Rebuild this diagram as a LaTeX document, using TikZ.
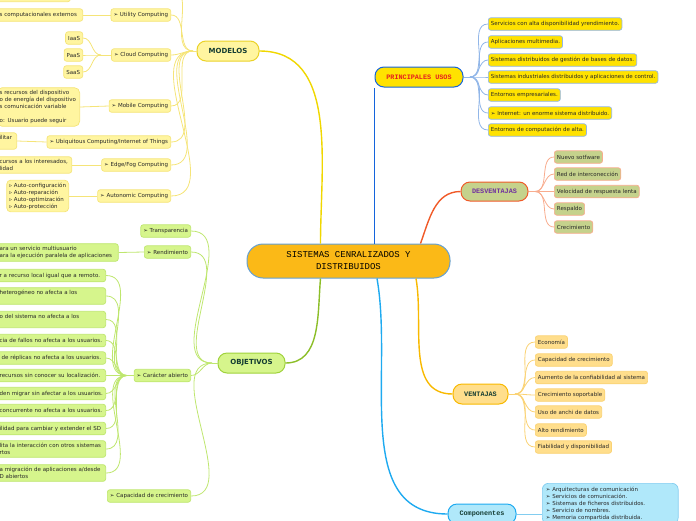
\documentclass[tikz,border=0pt]{standalone}
\usepackage{fontspec}
\setmainfont{DejaVu Sans}
\newfontfamily\courier{Liberation Mono}
\usepackage{tikz}
\usetikzlibrary{positioning}

\definecolor{ink}{RGB}{40,40,40}
\definecolor{deep}{RGB}{20,60,50}
\definecolor{cenfill}{RGB}{251,185,23}
\definecolor{cenbd}{RGB}{100,160,210}
\definecolor{modfill}{RGB}{255,245,160}
\definecolor{modbd}{RGB}{235,210,40}
\definecolor{modedge}{RGB}{245,228,120}
\definecolor{modtrunk}{RGB}{240,215,0}
\definecolor{objfill}{RGB}{214,245,140}
\definecolor{objbd}{RGB}{160,210,60}
\definecolor{objedge}{RGB}{190,230,110}
\definecolor{objtrunk}{RGB}{140,190,40}
\definecolor{usofill}{RGB}{255,226,0}
\definecolor{usobd}{RGB}{20,100,220}
\definecolor{usotext}{RGB}{230,30,30}
\definecolor{usoedge}{RGB}{145,182,232}
\definecolor{desfill}{RGB}{197,210,140}
\definecolor{desbd}{RGB}{240,90,40}
\definecolor{destext}{RGB}{112,48,160}
\definecolor{desedge}{RGB}{248,172,142}
\definecolor{venfill}{RGB}{255,222,140}
\definecolor{venbd}{RGB}{248,185,0}
\definecolor{venedge}{RGB}{250,210,115}
\definecolor{comfill}{RGB}{176,232,250}
\definecolor{combd}{RGB}{30,170,240}
\definecolor{comedge}{RGB}{130,205,240}

\begin{document}
\begin{tikzpicture} [
        x = 1pt, y = -1pt,
        every node/.style = {font = \fontsize{5.5}{7}\selectfont, text = ink, inner sep = 2.6pt, minimum height = 12.5pt, rounded corners = 2.5pt, line width = 0.7pt},
        cut/.style = {anchor = east, align = left, text width = #1},
        main/.style = {line width = 1pt, rounded corners = 9pt, minimum height = 20pt, text = deep},
        mono/.style = {main, font = \courier\bfseries\fontsize{6.8}{8}\selectfont},
        link/.style = {line width = 0.8pt},
        trunk/.style = {line width = 1.4pt},
        modmain/.style = {main, draw = modbd, fill = modfill, font = \fontsize{7}{8}\selectfont\bfseries, minimum width = 62pt},
        modleaf/.style = {draw = modedge, fill = modfill},
        objmain/.style = {main, draw = objbd, fill = objfill, font = \fontsize{7}{8}\selectfont\bfseries, minimum width = 67pt},
        objleaf/.style = {draw = objedge, fill = objfill},
        usomain/.style = {mono, draw = usobd, fill = usofill, text = usotext, minimum width = 88pt},
        usoleaf/.style = {draw = usoedge, fill = usofill},
        desmain/.style = {mono, draw = desbd, fill = desfill, text = destext, minimum width = 67pt, minimum height = 19pt},
        desleaf/.style = {draw = desedge, fill = desfill},
        venmain/.style = {mono, draw = venbd, fill = venfill, minimum width = 55pt},
        venleaf/.style = {draw = venedge, fill = venfill},
        commain/.style = {mono, draw = combd, fill = comfill, minimum width = 68pt},
        comleaf/.style = {draw = comedge, fill = comfill}
        ]
        \useasboundingbox (0,0) rectangle (696,520);

        \node [draw = cenbd, fill = cenfill, line width = 1pt, rounded corners = 16pt, minimum width = 203pt, minimum height = 34pt, align = center, font = \courier\fontsize{9}{12}\selectfont, text = black] (centro) at (348.5,261) {SISTEMAS CENRALIZADOS Y\\DISTRIBUIDOS};

        % MODELOS
        \node [modmain] (modelos) at (228,51) {MODELOS};
        \node [modleaf, anchor = east, minimum width = 60pt] (modtop) at (171,-12) {};
        \node [modleaf, anchor = east] (utility) at (171,15) {➢ Utility Computing};
        \node [modleaf, anchor = east] (cloud) at (171,55) {➢ Cloud Computing};
        \node [modleaf, anchor = east] (mobile) at (171,106) {➢ Mobile Computing};
        \node [modleaf, anchor = east] (ubiq) at (171,142) {➢ Ubiquitous Computing/Internet of Things};
        \node [modleaf, anchor = east] (edge) at (171,165) {➢ Edge/Fog Computing};
        \node [modleaf, anchor = east] (auto) at (171,196) {➢ Autonomic Computing};
        \node [modleaf, anchor = south west, minimum width = 74pt, minimum height = 16pt] (modtopL) at (-4,2) {};
        \node [modleaf, cut = 80.4pt] (utilityL) at (83,15) {s computacionales externos};
        \node [modleaf, anchor = east] (iaas) at (83,38) {IaaS};
        \node [modleaf, anchor = east] (paas) at (83,55) {PaaS};
        \node [modleaf, anchor = east] (saas) at (83,72) {SaaS};
        \node [modleaf, cut = 77.4pt, rounded corners = 5pt] (mobileL) at (80,107) {s recursos del dispositivo\\o de energía del dispositivo\\s comunicación variable\\[7pt]o: Usuario puede seguir};
        \node [modleaf, cut = 14.4pt] (ubiqL) at (17,141) {ilitar\\\mbox{}};
        \node [modleaf, cut = 69.4pt] (edgeL) at (72,165) {cursos a los interesados,\\lidad};
        \node [modleaf, anchor = east, align = left, rounded corners = 4pt] (autoL) at (69,196) {▹ Auto-configuración\\▹ Auto-reparación\\▹ Auto-optimización\\▹ Auto-protección};

        \coordinate (modfan) at (193,51);
        \coordinate (cloudfan) at (101,55);
        \draw [link, modedge] (modelos.west) -- (modfan);
        \foreach \n in {modtop, utility, cloud, mobile, ubiq, edge, auto}
            \draw [link, modedge] (modfan) to [out = 180, in = 0] (\n.east);
        \draw [link, modedge] (cloud.west) -- (cloudfan);
        \foreach \n in {iaas, paas, saas}
            \draw [link, modedge] (cloudfan) to [out = 180, in = 0] (\n.east);
        \draw [link, modedge] (modtop.west) to [out = 180, in = 0] (modtopL.east);
        \draw [link, modedge] (utility.west) -- (utilityL.east);
        \draw [link, modedge] (mobile.west) -- (mobileL.east);
        \draw [link, modedge] (ubiq.west) -- (ubiqL.east);
        \draw [link, modedge] (edge.west) -- (edgeL.east);
        \draw [link, modedge] (auto.west) -- (autoL.east);

        % OBJETIVOS
        \node [objmain] (objetivos) at (251.5,363) {OBJETIVOS};
        \node [objleaf, anchor = east] (transp) at (191,231) {➢ Transparencia};
        \node [objleaf, anchor = east] (rend) at (191,252) {➢ Rendimiento};
        \node [objleaf, anchor = east] (abierto) at (191,375.5) {➢ Carácter abierto};
        \node [objleaf, anchor = east] (crec) at (191,496) {➢ Capacidad de crecimiento};
        \node [objleaf, cut = 116pt] (rendL) at (118.6,252.5) {ara un servicio multiusuario\\ara la ejecución paralela de aplicaciones};
        \node [objleaf, cut = 103.4pt] (ab1) at (106,275.5) {r a recurso local igual que a remoto.};
        \node [objleaf, cut = 103.4pt] (ab2) at (106,296) {heterogéneo no afecta a los\\\mbox{}};
        \node [objleaf, cut = 103.4pt] (ab3) at (106,319.5) {o del sistema no afecta a los\\\mbox{}};
        \node [objleaf, cut = 103.4pt] (ab4) at (106,340.5) {cia de fallos no afecta a los usuarios.};
        \node [objleaf, cut = 103.4pt] (ab5) at (106,358) {\hspace{2pt}de réplicas no afecta a los usuarios.};
        \node [objleaf, cut = 103.4pt] (ab6) at (106,375.5) {recursos sin conocer su localización.};
        \node [objleaf, cut = 103.4pt] (ab7) at (106,393.5) {den migrar sin afectar a los usuarios.};
        \node [objleaf, cut = 103.4pt] (ab8) at (106,410.5) {concurrente no afecta a los usuarios.};
        \node [objleaf, cut = 103.4pt] (ab9) at (106,428.5) {ilidad para cambiar y extender el SD};
        \node [objleaf, cut = 103.4pt] (ab10) at (106,449) {lita la interacción con otros sistemas\\rtos};
        \node [objleaf, cut = 103.4pt] (ab11) at (106,473) {a migración de aplicaciones a/desde\\D abiertos};

        \coordinate (objfan) at (212,363);
        \coordinate (abfan) at (127,375.5);
        \draw [link, objedge] (objetivos.west) -- (objfan);
        \foreach \n in {transp, rend, abierto, crec}
            \draw [link, objedge] (objfan) to [out = 180, in = 0] (\n.east);
        \draw [link, objedge] (rend.west) -- (rendL.east);
        \draw [link, objedge] (abierto.west) -- (abfan);
        \foreach \i in {1,...,11}
            \draw [link, objedge] (abfan) to [out = 180, in = 0] (ab\i.east);

        % PRINCIPALES USOS
        \node [usomain] (usos) at (419,77) {PRINCIPALES USOS};
        \coordinate (usofan) at (470,77);
        \draw [link, usoedge] (usos.east) -- (usofan);
        \foreach \y/\t [count = \i] in {24/{Servicios con alta disponibilidad yrendimiento.}, 42/{Aplicaciones multimedia.}, 60/{Sistemas distribuidos de gestión de bases de datos.}, 77/{Sistemas industriales distribuidos y aplicaciones de control.}, 95/{Entornos empresariales.}, 113/{➢ Internet: un enorme sistema distribuido.}, 130/{Entornos de computación de alta.}} {
            \node [usoleaf, anchor = west] (uso\i) at (488,\y) {\t};
            \draw [link, usoedge] (usofan) to [out = 0, in = 180] (uso\i.west);
        }

        % DESVENTAJAS
        \node [desmain] (desv) at (494.5,191.5) {DESVENTAJAS};
        \coordinate (desfan) at (535,191.5);
        \draw [link, desedge] (desv.east) -- (desfan);
        \foreach \y/\t [count = \i] in {157/{Nuevo sotfware}, 174/{Red de interconección}, 191.5/{Velocidad de respuesta lenta}, 209/{Respaldo}, 227/{Crecimiento}} {
            \node [desleaf, anchor = west] (des\i) at (554,\y) {\t};
            \draw [link, desedge] (desfan) to [out = 0, in = 180] (des\i.west);
        }

        % VENTAJAS
        \node [venmain] (vent) at (480.5,394) {VENTAJAS};
        \coordinate (venfan) at (515,394);
        \draw [link, venedge] (vent.east) -- (venfan);
        \foreach \y/\t [count = \i] in {342/{Economía}, 360/{Capacidad de crecimiento}, 377.5/{Aumento de la confiabilidad al sistema}, 395/{Crecimiento soportable}, 412/{Uso de anchi de datos}, 430/{Alto rendimiento}, 447/{Fiabilidad y disponibilidad}} {
            \node [venleaf, anchor = west] (ven\i) at (535,\y) {\t};
            \draw [link, venedge] (venfan) to [out = 0, in = 180] (ven\i.west);
        }

        % Componentes
        \node [commain] (comp) at (482,514) {Componentes};
        \node [comleaf, anchor = north west, align = left, text width = 128.8pt, rounded corners = 6pt, inner sep = 3.5pt] (compL) at (542,483) {➢ Arquitecturas de comunicación\\➢ Servicios de comunicación.\\➢ Sistemas de ficheros distribuidos.\\➢ Servicio de nombres.\\➢ Memoria compartida distribuida.};
        \draw [link, comedge] (comp.east) -- (comp.east -| compL.west);

        % trunks
        \draw [trunk, modtrunk] ([xshift = -28pt]centro.north) to [out = 90, in = 0] (modelos.east);
        \draw [trunk, usobd] (centro.north -| usos.west) -- (usos.south west);
        \draw [trunk, desbd] ([xshift = 72pt]centro.north) to [out = 70, in = 180] (desv.west);
        \draw [trunk, objtrunk] ([xshift = -28pt]centro.south) to [out = -95, in = 0] (objetivos.east);
        \draw [trunk, venbd] ([xshift = 67.5pt]centro.south) to [out = -80, in = 180] (vent.west);
        \draw [trunk, combd] ([xshift = 28.5pt]centro.south) to [out = -80, in = 180] (comp.west);
    \end{tikzpicture}
\end{document}
